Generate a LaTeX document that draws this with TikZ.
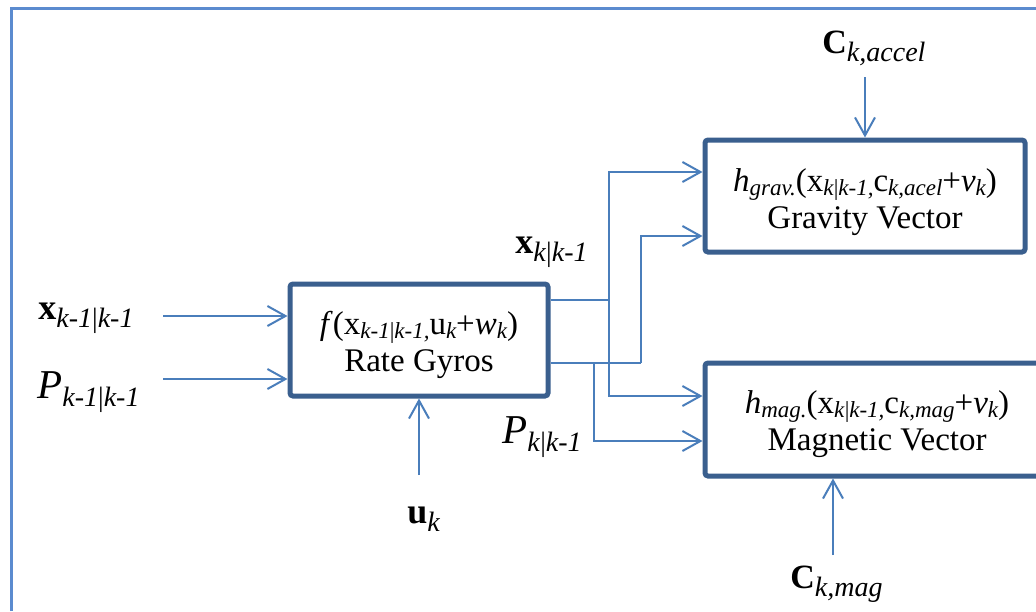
\documentclass[tikz,border=0pt]{standalone}
\usepackage{fontspec}
\setmainfont{Liberation Serif}
\usetikzlibrary{arrows.meta,calc}
\definecolor{conn}{HTML}{4A7EBB}
\definecolor{boxc}{HTML}{3A5F8E}
\definecolor{framec}{HTML}{5B8BCF}
\newcommand{\bsub}[1]{\raisebox{-2pt}{\fontsize{11.5}{11.5}\selectfont\itshape #1}}
\newcommand{\lsub}[1]{\raisebox{-4pt}{\fontsize{14}{14}\selectfont\itshape #1}}
\newcommand{\vbar}{\textup{|}}
\tikzset{
  blk/.style={draw=boxc, line width=2.5pt, rounded corners=1.5pt, fill=white, inner sep=0pt},
  btxt/.style={align=center, font=\fontsize{16.5}{18.5}\selectfont, inner sep=0pt},
  arr/.style={draw=conn, line width=1pt, -{Straight Barb[length=9pt,width=10pt]}},
  ln/.style={draw=conn, line width=1pt},
  lbl/.style={anchor=base west, inner sep=0pt},
}
\begin{document}
\begin{tikzpicture}[x=0.5pt,y=-0.5pt]
\useasboundingbox (0,0) rectangle (1036,611);
\clip (0,0) rectangle (1036,611);
\fill[white] (0,0) rectangle (1036,611);
\draw[framec, line width=1.5pt] (11,611) -- (11,8) -- (1036,8);

\node[blk, minimum width=129pt, minimum height=56pt] (rg) at (419,340) {};
\node[blk, minimum width=160pt, minimum height=56pt] (grav) at (865,196) {};
\node[blk, minimum width=172pt, minimum height=56.5pt] (mag) at (877,419.5) {};

\node[btxt] (rgt) at (419,345)
  {\textit{f}(x\bsub{k-1\vbar k-1,}u\bsub{k}+\textit{w}\bsub{k})\\Rate Gyros};
\node[btxt] (gravt) at (865,202)
  {\textit{h}\bsub{grav.}(x\bsub{k\vbar k-1,}c\bsub{k,acel}+\textit{v}\bsub{k})\\Gravity Vector};
\node[btxt] (magt) at (877,424)
  {\textit{h}\bsub{mag.}(x\bsub{k\vbar k-1,}c\bsub{k,mag}+\textit{v}\bsub{k})\\Magnetic Vector};

\node[lbl] (xl) at (38,319) {\fontsize{18}{20}\selectfont\textbf{x}\lsub{k-1\vbar k-1}};
\node[lbl] (pl) at (37,398) {\fontsize{20.5}{22}\selectfont\textit{P}\lsub{k-1\vbar k-1}};
\node[lbl] (xo) at (515,253) {\fontsize{18}{20}\selectfont\textbf{x}\lsub{k\vbar k-1}};
\node[lbl] (po) at (502,443) {\fontsize{20.5}{22}\selectfont\textit{P}\lsub{k\vbar k-1}};
\node[lbl] (ul) at (407,523) {\fontsize{18}{20}\selectfont\textbf{u}\lsub{k}};
\node[lbl] (cal) at (822,53) {\fontsize{17}{20}\selectfont\textbf{C}\lsub{k,accel}};
\node[lbl] (cml) at (790,588) {\fontsize{17}{20}\selectfont\textbf{C}\lsub{k,mag}};

\coordinate (xin) at (163,316);
\coordinate (pin) at (163,379);
\coordinate (uin) at (418,475);
\coordinate (j1) at (609,300);
\coordinate (j2) at (641,363);
\coordinate (j3) at (594,363);
\coordinate (g1) at (0,172);
\coordinate (g2) at (0,236);
\coordinate (m1) at (0,396);
\coordinate (m2) at (0,441);
\coordinate (cain) at (865,77);
\coordinate (cmin) at (833,555);

\draw[arr] (xin) -- (rg.west |- xin);
\draw[arr] (pin) -- (rg.west |- pin);
\draw[arr] (rg.south |- uin) -- (rg.south);
\draw[ln] (rg.east |- j1) -- (j1);
\draw[arr] (j1) |- (grav.west |- g1);
\draw[arr] (j1) |- (mag.west |- m1);
\draw[ln] (rg.east |- j2) -- (j2);
\draw[arr] (j2) |- (grav.west |- g2);
\draw[arr] (j3) |- (mag.west |- m2);
\draw[arr] (cain) -- (grav.north);
\draw[arr] (cmin) -- (mag.south -| cmin);
\end{tikzpicture}
\end{document}
